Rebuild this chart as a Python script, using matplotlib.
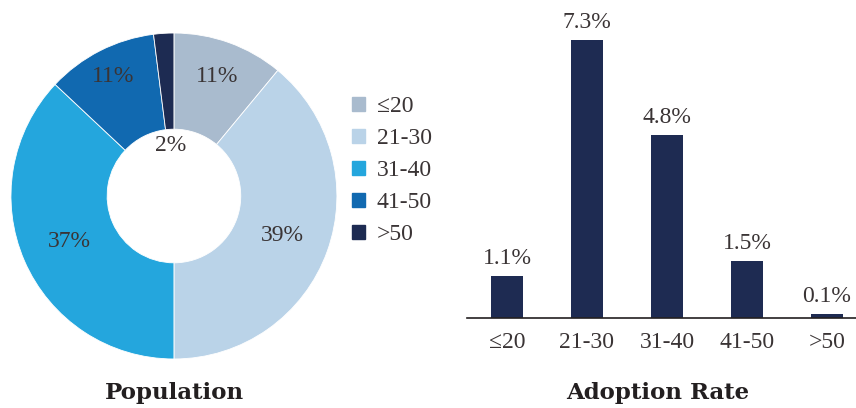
import numpy as np
import matplotlib
matplotlib.use('Agg')
import matplotlib.pyplot as plt
import matplotlib.patches as mpatches

plt.rcParams['font.family'] = ['Liberation Serif', 'DejaVu Serif']

# data
age_groups = ['≤20', '21-30', '31-40', '41-50', '>50']
population = [11, 39, 37, 11, 2]
adoption = [1.1, 7.3, 4.8, 1.5, 0.1]

pie_colors = ['#A9BBCE', '#BAD3E8', '#24A6DD', '#1169B0', '#1D2B52']
bar_color = '#1E2B52'
text_color = '#3A3435'
title_color = '#231F20'
label_dist = [0.78, 0.71, 0.70, 0.82, 0.31]

fig = plt.figure(figsize=(8.56, 4.08), dpi=100)

# donut
ax1 = fig.add_axes([0.0128, 0.1201, 0.3808, 0.799])
wedges, _ = ax1.pie(population, colors=pie_colors, startangle=90, counterclock=False,
                    radius=1.0, wedgeprops=dict(width=0.59, edgecolor='white', linewidth=0.6))
ax1.set_xlim(-1, 1)
ax1.set_ylim(-1, 1)
ax1.set_aspect('equal')

for w, v, d in zip(wedges, population, label_dist):
    ang = np.deg2rad((w.theta1 + w.theta2) / 2)
    ax1.text(d * np.cos(ang), d * np.sin(ang), '%d%%' % v, ha='center', va='center',
             fontsize=17, color=text_color)

handles = [mpatches.Patch(color=c, label=l) for c, l in zip(pie_colors, age_groups)]
fig.legend(handles=handles, loc='upper left', bbox_to_anchor=(352 / 856, 1 - 96 / 408),
           frameon=False, fontsize=17, handlelength=0.55, handleheight=0.55,
           handletextpad=0.5, labelspacing=0.47, labelcolor=text_color,
           borderpad=0, borderaxespad=0)

# bars
ax2 = fig.add_axes([467 / 856, 1 - 318 / 408, (856 - 467) / 856, 298 / 408])
x = np.arange(len(age_groups))
bars = ax2.bar(x, adoption, width=0.41, color=bar_color)
ax2.bar_label(bars, labels=['%.1f%%' % v for v in adoption], padding=5,
              fontsize=17, color=text_color)
ax2.set_xlim(-0.5, 4.3625)
ax2.set_ylim(0, 7.825)
ax2.set_xticks(x)
ax2.set_xticklabels(age_groups, fontsize=17, color=text_color)
ax2.tick_params(axis='x', length=0, pad=10)
ax2.set_yticks([])
for s in ['top', 'right', 'left']:
    ax2.spines[s].set_visible(False)
ax2.spines['bottom'].set_color(title_color)
ax2.spines['bottom'].set_linewidth(1.2)

fig.text(174 / 856, 1 - 393 / 408, 'Population', ha='center', va='center',
         fontsize=16.5, fontweight='bold', color=title_color, family='DejaVu Serif')
fig.text(658 / 856, 1 - 393 / 408, 'Adoption Rate', ha='center', va='center',
         fontsize=16.5, fontweight='bold', color=title_color, family='DejaVu Serif')

fig.savefig('out.png', dpi=100)
